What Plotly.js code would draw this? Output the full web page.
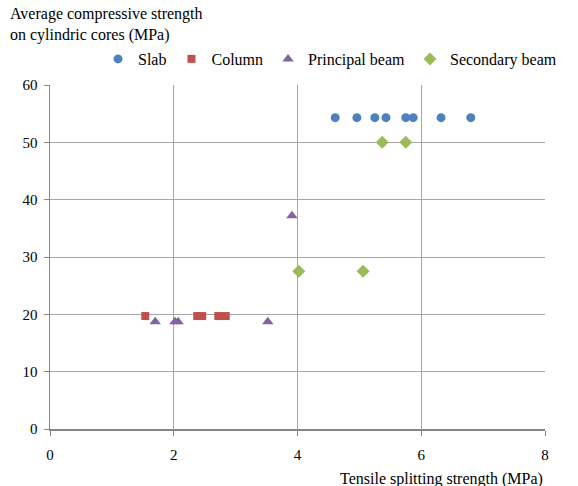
<!DOCTYPE html>
<html>
<head>
<meta charset="utf-8">
<script src="https://cdn.plot.ly/plotly-3.0.1.min.js"></script>
<style>html,body{margin:0;padding:0;background:#fff;}#chart{width:578px;height:486px;}</style>
</head>
<body>
<div id="chart"></div>
<script>
const slabX = [4.61, 4.96, 5.25, 5.43, 5.75, 5.87, 6.32, 6.80];
const slabY = [54.3, 54.3, 54.3, 54.3, 54.3, 54.3, 54.3, 54.3];
const columnX = [1.54, 2.38, 2.46, 2.72, 2.84];
const columnY = [19.7, 19.7, 19.7, 19.7, 19.7];
const principalX = [1.70, 2.02, 2.07, 3.52, 3.91];
const principalY = [18.7, 18.7, 18.7, 18.7, 37.2];
const secondaryX = [5.37, 5.75, 4.02, 5.06];
const secondaryY = [50.0, 50.0, 27.5, 27.5];
const xTicks = [0, 2, 4, 6, 8];
const yTicks = [0, 10, 20, 30, 40, 50, 60];

const fam = '"Times New Roman", "Liberation Serif", "DejaVu Serif", serif';
const font = {family: fam, size: 16, color: '#000'};
const tickFont = {family: fam, size: 15, color: '#000'};

const traces = [
  {x: slabX, y: slabY, name: 'Slab', mode: 'markers', type: 'scatter',
   marker: {symbol: 'circle', size: 9, color: '#4F81BD'}},
  {x: columnX, y: columnY, name: 'Column', mode: 'markers', type: 'scatter',
   marker: {symbol: 'square', size: 8, color: '#C0504D'}},
  {x: principalX, y: principalY, name: 'Principal beam', mode: 'markers', type: 'scatter',
   marker: {symbol: 'triangle-up', size: 10, color: '#8064A2'}},
  {x: secondaryX, y: secondaryY, name: 'Secondary beam', mode: 'markers', type: 'scatter',
   marker: {symbol: 'diamond', size: 10, color: '#9BBB59'}}
];

const layout = {
  width: 578, height: 486,
  margin: {l: 50, r: 33, t: 85, b: 57},
  paper_bgcolor: '#fff', plot_bgcolor: '#fff',
  font: font,
  showlegend: true,
  legend: {orientation: 'h', x: 0.097, y: 1.0756, xanchor: 'left', yanchor: 'middle',
           font: font, itemwidth: 30, tracegroupgap: 0},
  xaxis: {range: [0, 8], tickvals: xTicks, ticktext: xTicks.map(String),
          showgrid: true, gridcolor: '#a6a6a6', gridwidth: 1,
          showline: true, linecolor: '#868686', linewidth: 1.5,
          ticks: 'outside', ticklen: 5, tickcolor: '#868686', ticklabelstandoff: 6,
          zeroline: false, tickfont: tickFont, fixedrange: true},
  yaxis: {range: [0, 60], tickvals: yTicks, ticktext: yTicks.map(String),
          showgrid: true, gridcolor: '#a6a6a6', gridwidth: 1,
          showline: true, linecolor: '#868686', linewidth: 1.5,
          ticks: 'outside', ticklen: 5, tickcolor: '#868686', ticklabelstandoff: 3,
          zeroline: false, tickfont: tickFont, fixedrange: true},
  annotations: [
    {text: 'Average compressive strength<br>on cylindric cores (MPa)', xref: 'paper', yref: 'paper',
     x: -0.085, y: 1.237, xanchor: 'left', yanchor: 'top', align: 'left', showarrow: false, font: font},
    {text: 'Tensile splitting strength (MPa)', xref: 'paper', yref: 'paper',
     x: 1.0, y: -0.113, xanchor: 'right', yanchor: 'top', showarrow: false, font: font}
  ]
};

Plotly.newPlot('chart', traces, layout, {displayModeBar: false, staticPlot: true});
</script>
</body>
</html>
